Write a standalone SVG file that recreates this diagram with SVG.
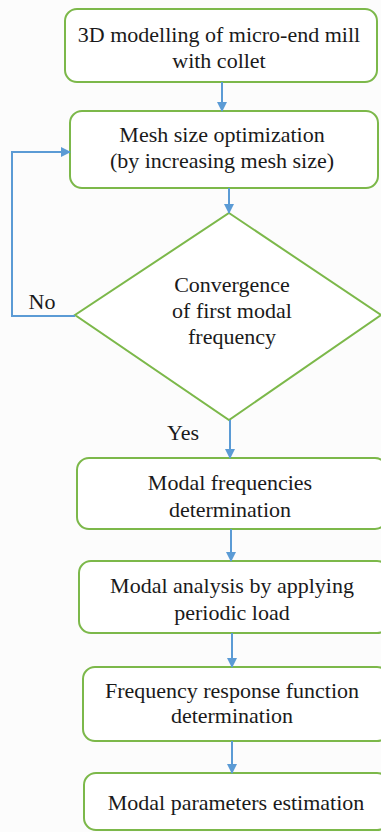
<svg xmlns="http://www.w3.org/2000/svg" width="381" height="832" viewBox="0 0 381 832">
<defs>
<style>
.box{fill:#ffffff;stroke:#7cb84a;stroke-width:2}
.t{font-family:'Liberation Serif','Times New Roman',Times,serif;font-size:22px;fill:#1a1a1a;text-anchor:middle}
.c{fill:none;stroke:#5b9bd5;stroke-width:2}
</style>
<marker id="ah" markerWidth="10" markerHeight="10" refX="9" refY="5" orient="auto" markerUnits="userSpaceOnUse">
<path d="M0,0 L10,5 L0,10 Z" fill="#5b9bd5"/>
</marker>
</defs>
<rect width="381" height="832" fill="#fcfcfc"/>
<g id="n1">
<rect class="box" x="65" y="9" width="312" height="73" rx="12"/>
<text class="t" x="219" y="42">3D modelling of micro-end mill</text>
<text class="t" x="219" y="68">with collet</text>
</g>
<g id="n2">
<rect class="box" x="70" y="111" width="308" height="77" rx="12"/>
<text class="t" x="222" y="142">Mesh size optimization</text>
<text class="t" x="222" y="168">(by increasing mesh size)</text>
</g>
<g id="n3">
<polygon points="229,213 381,315 229,420 75,315" fill="#ffffff" stroke="#7cb84a" stroke-width="2"/>
<text class="t" x="232" y="292">Convergence</text>
<text class="t" x="232" y="318">of first modal</text>
<text class="t" x="232" y="344">frequency</text>
</g>
<g id="n4">
<rect class="box" x="77" y="458" width="310" height="71" rx="12"/>
<text class="t" x="230" y="490">Modal frequencies</text>
<text class="t" x="230" y="517">determination</text>
</g>
<g id="n5">
<rect class="box" x="79" y="561" width="310" height="72" rx="12"/>
<text class="t" x="232" y="593">Modal analysis by applying</text>
<text class="t" x="232" y="620">periodic load</text>
</g>
<g id="n6">
<rect class="box" x="83" y="667" width="306" height="74" rx="12"/>
<text class="t" x="232" y="698">Frequency response function</text>
<text class="t" x="232" y="723">determination</text>
</g>
<g id="n7">
<rect class="box" x="84" y="773" width="305" height="57" rx="12"/>
<text class="t" x="236" y="810">Modal parameters estimation</text>
</g>
<g id="connectors">
<line class="c" x1="222" y1="82" x2="222" y2="111" marker-end="url(#ah)"/>
<line class="c" x1="229" y1="188" x2="229" y2="213" marker-end="url(#ah)"/>
<polyline class="c" points="75,316 12,316 12,152 70,152" marker-end="url(#ah)"/>
<line class="c" x1="230" y1="420" x2="230" y2="458" marker-end="url(#ah)"/>
<line class="c" x1="231" y1="529" x2="231" y2="561" marker-end="url(#ah)"/>
<line class="c" x1="232" y1="633" x2="232" y2="667" marker-end="url(#ah)"/>
<line class="c" x1="232" y1="741" x2="232" y2="773" marker-end="url(#ah)"/>
<text class="t" x="42" y="309">No</text>
<text class="t" x="183" y="440">Yes</text>
</g>
</svg>
